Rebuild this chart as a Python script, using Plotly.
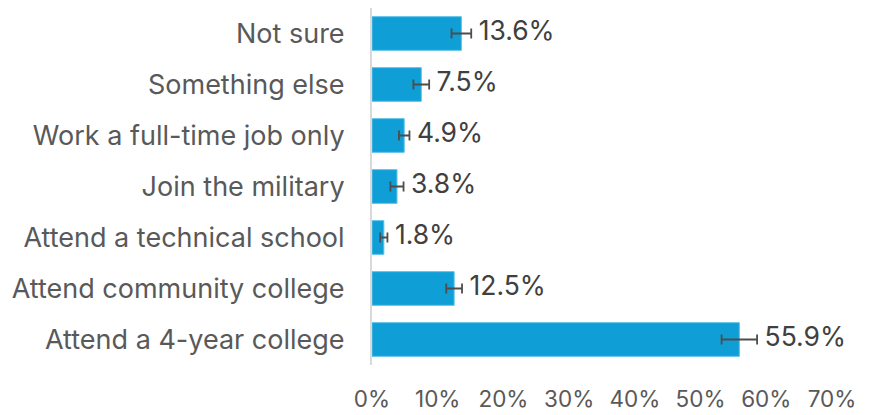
import plotly.graph_objects as go

categories = ["Attend a 4-year college", "Attend community college", "Attend a technical school",
              "Join the military", "Work a full-time job only", "Something else", "Not sure"]
values = [55.9, 12.5, 1.8, 3.8, 4.9, 7.5, 13.6]
errors = [2.7, 1.2, 0.55, 1.0, 0.8, 1.2, 1.5]
labels = [f"{v:.1f}%" for v in values]
tick_vals = [0, 10, 20, 30, 40, 50, 60, 70]
tick_text = [f"{t}%" for t in tick_vals]

FONT = "Inter"

fig = go.Figure()
fig.add_trace(go.Bar(
    y=categories, x=values, orientation="h",
    marker=dict(color="#0F9ED5", line=dict(color="#5CC0E8", width=1)),
    error_x=dict(type="data", array=errors, color="#4D4D4D", thickness=1.8, width=5),
    hoverinfo="skip",
))
fig.add_trace(go.Scatter(
    y=categories, x=[v + e for v, e in zip(values, errors)], mode="text",
    text=labels, texttemplate=" %{text}", textposition="middle right",
    textfont=dict(family=FONT, size=26.5, color="#404040"), hoverinfo="skip",
    cliponaxis=False,
))
fig.update_layout(
    width=877, height=415, showlegend=False, bargap=0.34,
    plot_bgcolor="white", paper_bgcolor="white",
    margin=dict(l=364, r=53, t=0, b=58, autoexpand=False),
    font=dict(family=FONT, color="#595959"),
)
fig.update_xaxes(range=[0, 70], tickvals=tick_vals, ticktext=tick_text, showgrid=False,
                 zeroline=False, tickfont=dict(family=FONT, size=22.5, color="#595959"),
                 ticks="", ticklabelstandoff=18, automargin=False)
fig.update_yaxes(showline=True, linecolor="#D9D9D9", linewidth=2, showgrid=False,
                 tickfont=dict(family=FONT, size=27, color="#595959"), ticks="",
                 ticklabelstandoff=20, automargin=False)
fig.write_html("out.html")
